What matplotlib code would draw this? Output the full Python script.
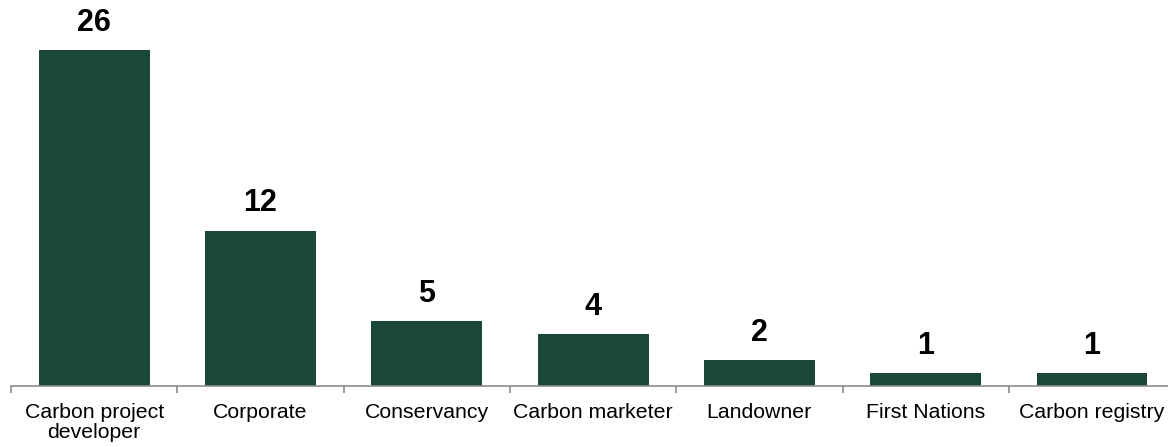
import matplotlib.pyplot as plt
import numpy as np

plt.rcParams['font.family'] = ['Liberation Sans', 'DejaVu Sans']

categories = ["Carbon project\ndeveloper", "Corporate", "Conservancy", "Carbon marketer",
              "Landowner", "First Nations", "Carbon registry"]
counts = [26, 12, 5, 4, 2, 1, 1]

bar_color = "#1a4838"
axis_color = "#8c8c8c"

fig = plt.figure(figsize=(11.68, 4.47), dpi=100)
ax = fig.add_axes([0.0094, 0.1365, 0.9967, 0.8635])

x = np.arange(len(categories))
ax.bar(x, counts, width=0.667, color=bar_color)

for xi, v in zip(x, counts):
    ax.annotate(str(v), (xi, v), xytext=(0, 9), textcoords="offset points",
                ha="center", va="bottom", fontsize=22, fontweight="bold")

ax.set_xlim(-0.5, len(categories) - 0.5)
ax.set_ylim(0, 29.87)

for s in ["top", "right", "left"]:
    ax.spines[s].set_visible(False)
ax.spines["bottom"].set_color(axis_color)
ax.spines["bottom"].set_linewidth(1.2)
ax.set_yticks([])

# category labels centred, separator ticks at slot boundaries
ax.set_xticks(x)
ax.set_xticklabels(categories, fontsize=15.3, linespacing=1.1)
ax.tick_params(axis="x", which="major", length=0, pad=12)
ax.set_xticks(np.arange(-0.5, len(categories)), minor=True)
ax.tick_params(axis="x", which="minor", length=5, color=axis_color, width=1.2)

fig.savefig("out.png", dpi=100)
